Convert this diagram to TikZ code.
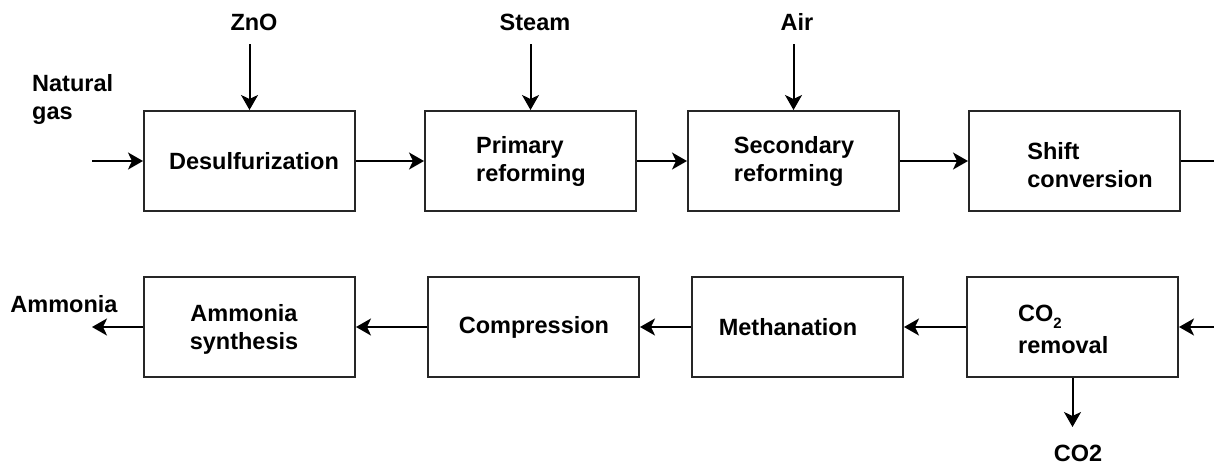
\documentclass[tikz,border=0pt]{standalone}
\usepackage{fontspec}
\setmainfont{Liberation Sans}
\usetikzlibrary{arrows.meta}
\newcommand{\lowsub}[1]{\raisebox{-7pt}{\fontsize{15}{15}\selectfont #1}}
\begin{document}
\begin{tikzpicture}[x=1pt,y=-1pt,
  box/.style={draw=black!85,line width=2pt,minimum width=211pt,minimum height=100pt,inner sep=0pt},
  txt/.style={font=\fontsize{23.5}{28}\selectfont\bfseries,align=left,inner sep=0pt},
  arr/.style={line width=2pt,-{Stealth[length=15pt,width=17pt,inset=4pt]}},
  ln/.style={line width=2pt}]
\useasboundingbox (0,0) rectangle (1214,464);
% boxes
\node[box] (d)  at (249.5,161) {};
\node[box] (p)  at (530.5,161) {};
\node[box] (s)  at (793.5,161) {};
\node[box] (sh) at (1074.5,161) {};
\node[box] (as) at (249.5,327) {};
\node[box] (co) at (533.5,327) {};
\node[box] (me) at (797.5,327) {};
\node[box] (cr) at (1072.5,327) {};
% box texts
\node[txt] (td)  at (254,161) {Desulfurization};
\node[txt] (tp)  at (531,161) {Primary\\reforming};
\node[txt] (ts)  at (794,161) {Secondary\\reforming};
\node[txt] (tsh) at (1090,165) {Shift\\conversion};
\node[txt,align=center] (tas) at (244,329) {Ammonia\\synthesis};
\node[txt] (tco) at (534,327) {Compression};
\node[txt] (tme) at (788,327) {Methanation};
\node[txt,anchor=north west] (tcr) at (1018,305) {CO\lowsub{2}\\[4pt]removal};
% outside labels
\node[txt] (lzn) at (254,22) {ZnO};
\node[txt] (lst) at (535,22) {Steam};
\node[txt] (lai) at (797,22) {Air};
\node[txt,anchor=west] (lng) at (32,99) {Natural\\gas};
\node[txt] (lam) at (64,304) {Ammonia};
\node[txt] (lco) at (1078,453) {CO2};
% free ends
\coordinate (ng) at (92,161);
\coordinate (zn) at (249.5,44);
\coordinate (st) at (530.5,44);
\coordinate (ai) at (793.5,44);
\coordinate (r1) at (1214,161);
\coordinate (r2) at (1214,327);
\coordinate (am) at (92,327);
\coordinate (c2) at (1072.5,427);
% connectors
\draw[arr] (ng) -- (d);
\draw[arr] (zn) -- (d.north);
\draw[arr] (st) -- (p.north);
\draw[arr] (ai) -- (s.north);
\draw[arr] (d) -- (p);
\draw[arr] (p) -- (s);
\draw[arr] (s) -- (sh);
\draw[ln] (sh.east) -- (r1);
\draw[arr] (r2) -- (cr.east);
\draw[arr] (cr) -- (me);
\draw[arr] (me) -- (co);
\draw[arr] (co) -- (as);
\draw[arr] (as) -- (am);
\draw[arr] (cr.south) -- (c2);
\end{tikzpicture}
\end{document}
